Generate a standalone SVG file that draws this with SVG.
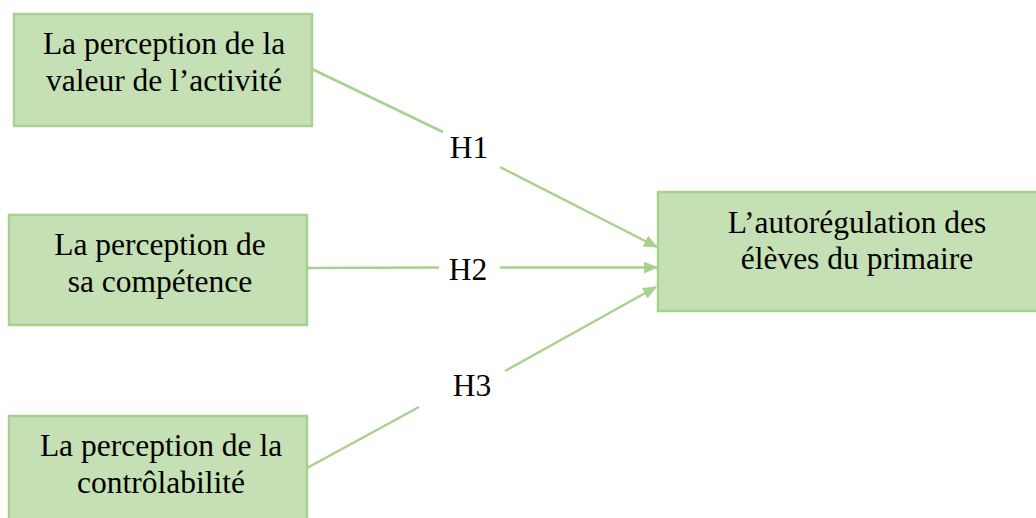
<svg xmlns="http://www.w3.org/2000/svg" width="1036" height="518" viewBox="0 0 1036 518">
<style>
.box{fill:#c5e0b4;stroke:#a9d18e;stroke-width:2.5}
.t{font-family:"Liberation Serif","Times New Roman",serif;font-size:31.5px;fill:#000;text-anchor:middle}
.c{fill:none;stroke:#a9d18e;stroke-width:2.5;marker-end:url(#ah)}
</style>
<defs>
<marker id="ah" viewBox="0 0 14 12" refX="13" refY="6" markerWidth="14" markerHeight="12" markerUnits="userSpaceOnUse" orient="auto">
<path d="M0,0 L14,6 L0,12 Z" fill="#a9d18e"/>
</marker>
</defs>
<rect width="1036" height="518" fill="#fff"/>
<g id="connectors">
<path class="c" d="M312,69 L443,132 M500,167 L657,247"/>
<path class="c" d="M307,268 L439,267.5 M500,267.5 L657,267.5"/>
<path class="c" d="M307,468 L419,407 M505,371 L656,287"/>
<text class="t" x="469" y="158">H1</text>
<text class="t" x="468" y="280">H2</text>
<text class="t" x="472" y="396">H3</text>
</g>
<g id="n1">
<rect class="box" x="14" y="14" width="298" height="112"/>
<text class="t" x="164" y="54">La perception de la</text>
<text class="t" x="164" y="91">valeur de l’activité</text>
</g>
<g id="n2">
<rect class="box" x="9" y="215" width="298" height="110"/>
<text class="t" x="160" y="255">La perception de</text>
<text class="t" x="160" y="292">sa compétence</text>
</g>
<g id="n3">
<rect class="box" x="9" y="416" width="298" height="120"/>
<text class="t" x="161" y="456">La perception de la</text>
<text class="t" x="161" y="493">contrôlabilité</text>
</g>
<g id="n4">
<rect class="box" x="658" y="192" width="400" height="119"/>
<text class="t" x="857" y="233">L’autorégulation des</text>
<text class="t" x="857" y="269">élèves du primaire</text>
</g>
</svg>
